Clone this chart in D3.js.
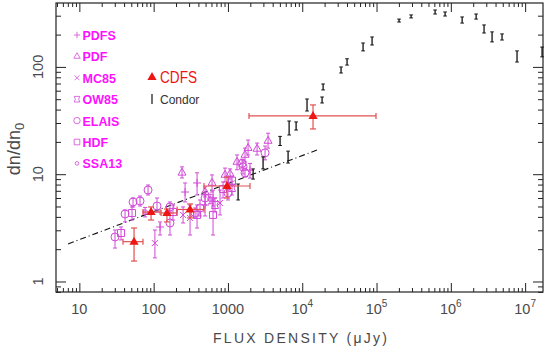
<!DOCTYPE html>
<html>
<head>
<meta charset="utf-8">
<script src="https://cdn.jsdelivr.net/npm/d3@7/dist/d3.min.js"></script>
<style>
body { margin: 0; background: #fff; }
svg { display: block; }
text { font-family: "Liberation Sans", Arial, sans-serif; }
</style>
</head>
<body>
<div class="chart-box"></div>
<script>
// survey names, legend order
var survey_names = ["PDFS", "PDF", "MC85", "OW85", "ELAIS", "HDF", "SSA13"];
var survey_syms  = ["plus", "tri", "x", "bowtie", "circle", "square", "ssa"];

// magenta survey points (flux uJy, dn/dn0, lower, upper)
var mag_survey = ["ELAIS","HDF","ELAIS","HDF","ELAIS","ELAIS","ELAIS","ELAIS","PDFS","MC85",
                  "ELAIS","ELAIS","HDF","PDFS","PDFS","PDF","PDF","ELAIS","MC85","HDF",
                  "ELAIS","ELAIS","HDF","MC85","PDF","PDF","HDF","ELAIS","PDF","PDF",
                  "ELAIS","ELAIS","PDF","ELAIS","PDF","PDF","PDF","ELAIS","OW85","OW85",
                  "SSA13","SSA13","MC85","PDFS","PDFS","PDFS","HDF"];
var mag_flux = [30.2, 36.4, 41.2, 51.2, 52.8, 65.6, 84.1, 111, 122, 104,
                166, 166, 182, 265, 384, 241, 492, 492, 309, 384,
                361, 421, 630, 783, 611, 914, 859, 1000, 1067, 1325,
                1596, 1698, 1698, 1549, 1866, 2466, 3467, 3159, 670, 1135,
                76.7, 574, 249, 492, 630, 1982, 1135];
var mag_val = [2.60, 2.83, 4.26, 4.35, 5.51, 5.63, 7.12, 5.05, 3.22, 2.28,
               3.51, 4.95, 4.44, 6.82, 8.28, 10.3, 6.82, 6.00, 3.91, 4.17,
               4.35, 4.84, 4.17, 5.39, 8.28, 9.84, 7.28, 6.68, 10.05, 13.0,
               11.7, 10.3, 15.1, 12.6, 17.5, 17.2, 20.4, 15.8, 5.16, 7.44,
               4.44, 5.87, 4.17, 5.16, 6.00, 10.9, 8.7];
var mag_lo = [2.05, 2.44, 3.59, 3.74, 4.95, 5.05, 6.40, 4.44, 2.71, 1.66,
              2.71, 4.44, 3.74, 5.51, 6.40, 9.22, 6.13, 5.16, 2.71, 3.15,
              3.91, 4.08, 2.71, 4.17, 6.82, 8.46, 6.00, 5.75, 9.0, 11.0,
              10.05, 9.4, 13.0, 11.4, 15.1, 15.1, 17.5, 13.6, 4.44, 6.4,
              4.0, 5.3, 3.51, 4.08, 5.05, 9.2, 7.8];
var mag_hi = [3.02, 3.22, 4.64, 4.95, 6.00, 6.26, 7.93, 6.00, 3.59, 3.02,
              4.35, 5.51, 5.16, 8.28, 10.3, 11.7, 7.60, 6.82, 5.16, 5.16,
              4.84, 5.75, 5.75, 7.12, 9.84, 11.4, 8.46, 7.76, 11.2, 15.1,
              13.6, 11.4, 17.5, 13.8, 20.8, 19.5, 24.1, 18.3, 6.0, 8.6,
              4.9, 6.5, 4.95, 6.4, 7.1, 12.6, 9.6];

// CDFS (red)
var cdfs_flux    = [54.5, 92.3, 151, 309, 972, 13970];
var cdfs_flux_lo = [38.7, 71.9, 126, 207, 476, 1920];
var cdfs_flux_hi = [71.9, 122, 207, 476, 1980, 98400];
var cdfs_val     = [2.35, 4.44, 4.35, 4.69, 7.76, 34.9];
var cdfs_lo      = [1.55, 3.74, 3.59, 3.91, 6.0, 26.4];
var cdfs_hi      = [3.15, 4.95, 4.74, 5.28, 9.42, 44.2];

// Condor (black)
var condor_flux = [1370, 2180, 2970, 5030, 6450, 6660, 8270, 11600, 18500, 19100,
                   33300, 40100, 65900, 87100, 201000, 292000, 614000, 837000, 1.42e6, 2.19e6,
                   2.80e6, 3.59e6, 4.89e6, 7.78e6, 1.69e7];
var condor_val = [6.8, 9.95, 12.7, 20.4, 14.5, 27.0, 28.1, 44.2, 49.2, 65.0,
                  93.6, 111, 153, 174, 271, 295, 325, 311, 274, 295,
                  225, 190, 190, 125, 138];
var condor_lo = [5.75, 9.0, 11.2, 18.5, 12.7, 23.2, 25.8, 38.8, 46.1, 61.0,
                 87.7, 104, 141, 160, 262, 286, 311, 298, 256, 279,
                 207, 171, 178, 111, 124];
var condor_hi = [8.1, 11.2, 14.5, 22.5, 16.4, 31.3, 30.7, 50.2, 52.4, 69.3,
                 99.8, 119, 167, 190, 279, 305, 339, 325, 292, 311,
                 246, 212, 203, 141, 153];

// dash-dot fit line
var fit_flux = [7.05, 15800];
var fit_val  = [2.24, 16.8];

// axis ticks
var x_major = [10, 100, 1000, 1e4, 1e5, 1e6, 1e7];
var x_base  = ["10", "100", "1000", "10", "10", "10", "10"];
var x_sup   = ["", "", "", "4", "5", "6", "7"];
var y_major = [1, 10, 100];
var y_labels = ["1", "10", "100"];

var margin = {top: 3, right: 2, bottom: 65, left: 56};
var width = 545 - margin.left - margin.right,
    height = 357 - margin.top - margin.bottom;

var MAG = "#d24ad8", LEG = "#ff10ff", RED = "#ee1515", REDBAR = "#e05050", INK = "#4a4a4a";

var svg = d3.select(".chart-box").append("svg")
    .attr("width", 545)
    .attr("height", 357)
  .append("g")
    .attr("transform", "translate(" + margin.left + "," + margin.top + ")");

var x = d3.scaleLog().domain([4.85, 1.74e7]).range([0, width]);
var y = d3.scaleLog().domain([0.798, 394]).range([height, 0]);

function isMajor(v) { return Math.abs(Math.log10(v) - Math.round(Math.log10(v))) < 1e-9; }
var x_minor = x.ticks().filter(function(v) { return !isMajor(v); });
var y_minor = y.ticks().filter(function(v) { return !isMajor(v); });

// frame + ticks
function tickAxis(axis, pos, vals, size) {
  var g = svg.append("g")
      .attr("transform", pos)
      .call(axis.tickValues(vals).tickSize(size).tickFormat(""));
  g.select(".domain").remove();
  g.selectAll("line").attr("stroke", "#222").attr("stroke-width", 1);
}
[[x_minor, -4], [x_major, -9]].forEach(function(t) {
  tickAxis(d3.axisBottom(x), "translate(0," + height + ")", t[0], t[1]);
  tickAxis(d3.axisTop(x), "translate(0,0)", t[0], t[1]);
});
[[y_minor, -5], [y_major, -10]].forEach(function(t) {
  tickAxis(d3.axisLeft(y), "translate(0,0)", t[0], t[1]);
  tickAxis(d3.axisRight(y), "translate(" + width + ",0)", t[0], t[1]);
});
svg.append("rect")
    .attr("width", width).attr("height", height)
    .attr("fill", "none").attr("stroke", "#222").attr("stroke-width", 1.2);

// x tick labels
var xl = svg.selectAll(".xlab")
    .data(x_major)
  .enter().append("text")
    .attr("class", "xlab")
    .attr("x", function(d) { return x(d); })
    .attr("y", height + 22)
    .attr("text-anchor", "middle")
    .attr("font-size", 14.5)
    .attr("fill", INK);
xl.append("tspan").text(function(d, i) { return x_base[i]; });
xl.append("tspan")
    .attr("dy", -7)
    .attr("font-size", 10)
    .text(function(d, i) { return x_sup[i]; });

// y tick labels (rotated)
svg.selectAll(".ylab")
    .data(y_major)
  .enter().append("text")
    .attr("class", "ylab")
    .attr("transform", function(d) { return "translate(-13," + y(d) + ") rotate(-90)"; })
    .attr("text-anchor", "middle")
    .attr("font-size", 14.5)
    .attr("fill", INK)
    .text(function(d, i) { return y_labels[i]; });

// axis titles
svg.append("text")
    .attr("x", 244).attr("y", height + 51)
    .attr("text-anchor", "middle")
    .attr("font-size", 14)
    .attr("fill", INK)
    .attr("textLength", 174).attr("lengthAdjust", "spacing")
    .text("FLUX DENSITY (\u03bcJy)");

var yt = svg.append("text")
    .attr("transform", "translate(-36,146) rotate(-90)")
    .attr("text-anchor", "middle")
    .attr("font-size", 18)
    .attr("fill", INK);
yt.append("tspan").text("dn/dn");
yt.append("tspan").attr("font-size", 13).attr("dy", 4).text("0");

// symbol shapes
function symPath(type) {
  switch (type) {
    case "plus":   return "M-4,0H4M0,-4V4";
    case "tri":    return "M0,-4.6L4,2.3L-4,2.3Z";
    case "x":      return "M-3,-3L3,3M-3,3L3,-3";
    case "bowtie": return "M-3.5,-3.5H3.5L2,0L3.5,3.5H-3.5L-2,0Z";
    case "circle": return "M4,0A4,4 0 1,1 -4,0A4,4 0 1,1 4,0Z";
    case "square": return "M-3.5,-3.5H3.5V3.5H-3.5Z";
    case "ssa":    return "M2.3,0A2.3,2.3 0 1,1 -2.3,0A2.3,2.3 0 1,1 2.3,0Z";
  }
}

// fit line
svg.append("path")
    .datum(fit_flux.map(function(d, i) { return [d, fit_val[i]]; }))
    .attr("d", d3.line().x(function(d) { return x(d[0]); }).y(function(d) { return y(d[1]); }))
    .attr("fill", "none")
    .attr("stroke", "#111")
    .attr("stroke-width", 1.1)
    .attr("stroke-dasharray", "6,3,1,3");

// magenta survey points
var mg = svg.selectAll(".mag")
    .data(mag_flux)
  .enter().append("g")
    .attr("class", "mag")
    .attr("stroke", MAG)
    .attr("fill", "none")
    .attr("stroke-width", 1);
mg.append("line")
    .attr("x1", function(d) { return x(d); })
    .attr("x2", function(d) { return x(d); })
    .attr("y1", function(d, i) { return y(mag_lo[i]); })
    .attr("y2", function(d, i) { return y(mag_hi[i]); });
[mag_lo, mag_hi].forEach(function(arr) {
  mg.append("line")
      .attr("x1", function(d) { return x(d) - 2; })
      .attr("x2", function(d) { return x(d) + 2; })
      .attr("y1", function(d, i) { return y(arr[i]); })
      .attr("y2", function(d, i) { return y(arr[i]); });
});
mg.append("path")
    .attr("transform", function(d, i) { return "translate(" + x(d) + "," + y(mag_val[i]) + ")"; })
    .attr("fill", "#fff").attr("fill-opacity", 0)
    .attr("d", function(d, i) { return symPath(survey_syms[survey_names.indexOf(mag_survey[i])]); });

// Condor points
var cg = svg.selectAll(".condor")
    .data(condor_flux)
  .enter().append("g")
    .attr("class", "condor")
    .attr("stroke", "#111")
    .attr("stroke-width", 1.3);
cg.append("line")
    .attr("x1", function(d) { return x(d); })
    .attr("x2", function(d) { return x(d); })
    .attr("y1", function(d, i) { return y(condor_lo[i]); })
    .attr("y2", function(d, i) { return y(condor_hi[i]); });
[condor_lo, condor_hi].forEach(function(arr) {
  cg.append("line")
      .attr("stroke-width", 1)
      .attr("x1", function(d) { return x(d) - 1.8; })
      .attr("x2", function(d) { return x(d) + 1.8; })
      .attr("y1", function(d, i) { return y(arr[i]); })
      .attr("y2", function(d, i) { return y(arr[i]); });
});

// CDFS points
var rg = svg.selectAll(".cdfs")
    .data(cdfs_flux)
  .enter().append("g")
    .attr("class", "cdfs")
    .attr("stroke", REDBAR)
    .attr("stroke-width", 1.2);
rg.append("line")
    .attr("x1", function(d, i) { return x(cdfs_flux_lo[i]); })
    .attr("x2", function(d, i) { return x(cdfs_flux_hi[i]); })
    .attr("y1", function(d, i) { return y(cdfs_val[i]); })
    .attr("y2", function(d, i) { return y(cdfs_val[i]); });
rg.append("line")
    .attr("x1", function(d) { return x(d); })
    .attr("x2", function(d) { return x(d); })
    .attr("y1", function(d, i) { return y(cdfs_lo[i]); })
    .attr("y2", function(d, i) { return y(cdfs_hi[i]); });
[cdfs_lo, cdfs_hi].forEach(function(arr) {
  rg.append("line")
      .attr("x1", function(d) { return x(d) - 3; })
      .attr("x2", function(d) { return x(d) + 3; })
      .attr("y1", function(d, i) { return y(arr[i]); })
      .attr("y2", function(d, i) { return y(arr[i]); });
});
[cdfs_flux_lo, cdfs_flux_hi].forEach(function(arr) {
  rg.append("line")
      .attr("x1", function(d, i) { return x(arr[i]); })
      .attr("x2", function(d, i) { return x(arr[i]); })
      .attr("y1", function(d, i) { return y(cdfs_val[i]) - 3; })
      .attr("y2", function(d, i) { return y(cdfs_val[i]) + 3; });
});
rg.append("path")
    .attr("transform", function(d, i) { return "translate(" + x(d) + "," + y(cdfs_val[i]) + ")"; })
    .attr("d", "M0,-5L4.6,3L-4.6,3Z")
    .attr("fill", RED)
    .attr("stroke", "none");

// legend
var leg = svg.selectAll(".leg")
    .data(survey_names)
  .enter().append("g")
    .attr("class", "leg")
    .attr("transform", function(d, i) { return "translate(21," + (32 + i * 21.4) + ")"; });
leg.append("path")
    .attr("d", function(d, i) { return symPath(survey_syms[i]); })
    .attr("transform", "scale(0.8)")
    .attr("fill", "none")
    .attr("stroke", MAG);
leg.append("text")
    .attr("x", 5.5).attr("y", 5)
    .attr("font-size", 12.5)
    .attr("font-weight", "bold")
    .attr("fill", LEG)
    .text(function(d) { return d; });

svg.append("path")
    .attr("transform", "translate(96,74)")
    .attr("d", "M0,-5L4.6,3L-4.6,3Z")
    .attr("fill", RED);
svg.append("text")
    .attr("x", 104).attr("y", 80)
    .attr("font-size", 16)
    .attr("fill", RED)
    .attr("textLength", 37).attr("lengthAdjust", "spacingAndGlyphs")
    .text("CDFS");
svg.append("line")
    .attr("x1", 96).attr("x2", 96).attr("y1", 91).attr("y2", 101)
    .attr("stroke", "#111").attr("stroke-width", 1.2);
svg.append("text")
    .attr("x", 104).attr("y", 101)
    .attr("font-size", 12)
    .attr("fill", "#333")
    .text("Condor");
</script>
</body>
</html>
